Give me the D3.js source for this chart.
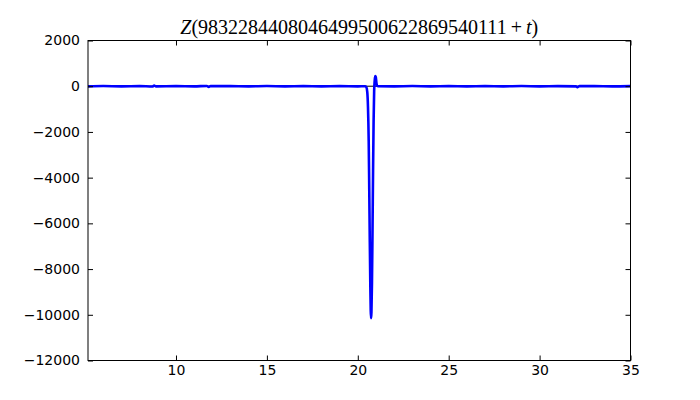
<!DOCTYPE html>
<html><head><meta charset="utf-8">
<script src="https://cdn.jsdelivr.net/npm/d3@7"></script>
<style>body{margin:0;background:#fff}svg{display:block}
.tick text{font-family:'DejaVu Sans',sans-serif;font-size:14px;}</style>
</head><body>
<svg id="c" width="700" height="400"></svg>
<script>
const tValues = [5.16, 6.0, 7.0, 8.0, 8.7, 8.8, 8.9, 10.0, 11.0, 11.7, 11.8, 11.9, 13.0, 14.0, 15.0, 16.0, 17.0, 18.0, 19.0, 20.0, 20.40, 20.47, 20.52, 20.56, 20.60, 20.63, 20.66, 20.69, 20.71, 20.73, 20.75, 20.78, 20.81, 20.84, 20.87, 20.90, 20.93, 20.96, 20.99, 21.02, 21.06, 21.12, 22.0, 23.0, 24.0, 25.0, 26.0, 27.0, 28.0, 29.0, 30.0, 31.0, 32.0, 32.1, 32.2, 33.0, 34.0, 35.0];
const zValues = [-5, 8, -6, 5, -10, 25, -8, 6, -5, 10, -30, 8, 5, -6, 7, -5, 6, -8, 5, -6, 0, -40, -250, -900, -2400, -4500, -6800, -8800, -9800, -10150, -9900, -8600, -6300, -3700, -1500, -200, 250, 440, 400, 180, 20, 0, -6, 7, -5, 6, -7, 5, -6, 8, -5, 6, -8, -40, 5, 6, -5, 3];
const xTicks = [10, 15, 20, 25, 30, 35];
const yTicks = [2000, 0, -2000, -4000, -6000, -8000, -10000, -12000];
const xDomain = [5.16, 35];
const yDomain = [-12000, 2000];

const svg = d3.select("#c");
const L = 88, R = 630.5, T = 40.5, B = 360.5;
const x = d3.scaleLinear().domain(xDomain).range([L, R]);
const y = d3.scaleLinear().domain(yDomain).range([B, T]);
const fmt = d => d < 0 ? "\u2212" + Math.abs(d) : String(d);

svg.append("clipPath").attr("id","clip").append("rect")
  .attr("x", L).attr("y", T).attr("width", R-L).attr("height", B-T);

// zero line
svg.append("line").attr("x1", L).attr("x2", R).attr("y1", y(0)).attr("y2", y(0))
  .attr("stroke", "#000").attr("stroke-width", 1);

const data = tValues.map((t,i)=>[t, zValues[i]]);
svg.append("path").datum(data)
  .attr("clip-path","url(#clip)")
  .attr("fill","none").attr("stroke","#0000ff").attr("stroke-width",2.6)
  .attr("stroke-linejoin","round")
  .attr("d", d3.line().x(d=>x(d[0])).y(d=>y(d[1])).curve(d3.curveMonotoneX));

// axes
const ax = d3.axisBottom(x).tickValues(xTicks).tickSize(-5).tickPadding(5).tickFormat(fmt);
const gx = svg.append("g").attr("transform",`translate(0,${B})`).call(ax);
const axTop = d3.axisTop(x).tickValues(xTicks).tickSize(-5).tickFormat("");
const gxt = svg.append("g").attr("transform",`translate(0,${T})`).call(axTop);
const ay = d3.axisLeft(y).tickValues(yTicks).tickSize(-5).tickPadding(8).tickFormat(fmt);
const gy = svg.append("g").attr("transform",`translate(${L},0)`).call(ay);
const ayR = d3.axisRight(y).tickValues(yTicks).tickSize(-5).tickFormat("");
const gyr = svg.append("g").attr("transform",`translate(${R},0)`).call(ayR);
[gx,gxt,gy,gyr].forEach(g=>{
  g.attr("font-family", null).attr("font-size", null);
  g.select(".domain").remove();
  g.selectAll("line").attr("stroke","#000").attr("stroke-width",1);
  g.selectAll("text").attr("fill","#000")
    .style("font-family","'DejaVu Sans', sans-serif").style("font-size","14px");
});
gx.selectAll("text").attr("dy","0.71em");

svg.append("rect").attr("x",L).attr("y",T).attr("width",R-L).attr("height",B-T)
  .attr("fill","none").attr("stroke","#000").attr("stroke-width",1);

// title
const title = svg.append("text").attr("x", (L+R)/2).attr("y", 34).attr("text-anchor","middle")
  .style("font-family","'Liberation Serif', serif").style("font-size","20px").attr("fill","#000");
title.append("tspan").attr("font-style","italic").text("Z");
title.append("tspan").text("(9832284408046499500622869540111\u2009+\u2009");
title.append("tspan").attr("font-style","italic").text("t");
title.append("tspan").text(")");
</script>
</body></html>
